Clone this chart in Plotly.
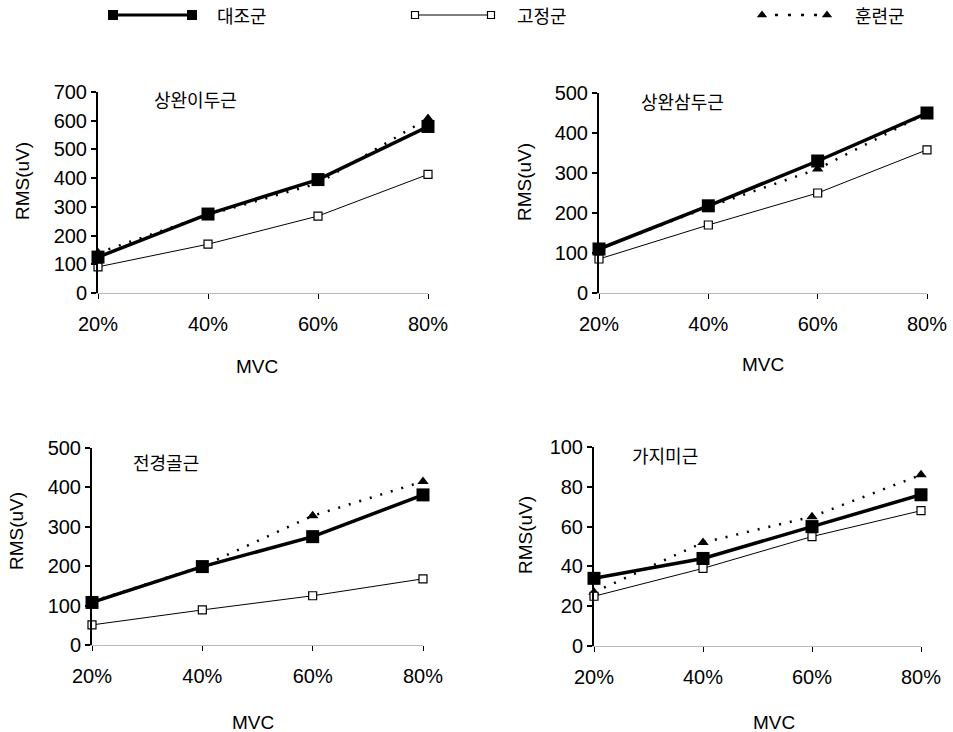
import plotly.graph_objects as go

mvc = [20, 40, 60, 80]
mvc_labels = [f"{v}%" for v in mvc]
groups = ["대조군", "고정군", "훈련군"]
muscles = ["상완이두근", "상완삼두근", "전경골근", "가지미근"]

# values per muscle: control (대조군), fixed (고정군), training (훈련군)
control = {
    "상완이두근": [125, 275, 395, 580],
    "상완삼두근": [110, 218, 330, 450],
    "전경골근": [108, 199, 275, 381],
    "가지미근": [34, 44, 60, 76],
}
fixed = {
    "상완이두근": [91, 170, 268, 413],
    "상완삼두근": [85, 170, 250, 358],
    "전경골근": [51, 89, 125, 168],
    "가지미근": [25, 39, 55, 68],
}
training = {
    "상완이두근": [140, 272, 382, 608],
    "상완삼두근": [110, 215, 310, 450],
    "전경골근": [110, 200, 328, 415],
    "가지미근": [27, 52, 65, 86],
}
y_max = {"상완이두근": 700, "상완삼두근": 500, "전경골근": 500, "가지미근": 100}
y_dtick = {"상완이두근": 100, "상완삼두근": 100, "전경골근": 100, "가지미근": 20}

W, H = 953, 732
# pixel boxes: (x_left, x_right, y_bottom, y_top)
boxes = [(98, 428, 293, 92), (599, 927, 293, 93), (92, 423, 645, 448), (594, 921, 646, 447)]
title_pos = [(195, 99), (682, 101), (166, 462), (665, 455)]
ylab_pos = [(22, 181), (525, 182), (16, 531), (525, 535)]
mvc_pos = [(257, 366), (763, 364), (253, 722), (774, 722)]

styles = {
    "대조군": dict(line=dict(color="black", width=3.5),
                 marker=dict(symbol="square", size=13, color="black")),
    "고정군": dict(line=dict(color="black", width=1),
                 marker=dict(symbol="square", size=8, color="white",
                             line=dict(color="black", width=1.2))),
    "훈련군": dict(line=dict(color="black", width=2.5, dash="2px,9px"),
                 marker=dict(symbol="triangle-up", size=10, color="black")),
}
legend_style = {
    "대조군": dict(line=dict(color="black", width=3),
                 marker=dict(symbol="square", size=10, color="black")),
    "고정군": dict(line=dict(color="black", width=1),
                 marker=dict(symbol="square", size=7, color="white",
                             line=dict(color="black", width=1.2))),
    "훈련군": dict(line=dict(color="black", width=2.5, dash="3px,10px"),
                 marker=dict(symbol="triangle-up", size=9, color="black")),
}
# legend layout in pixels: (symbol x0, symbol x1, text centre x), y
legend_pos = {"대조군": (113, 192, 242), "고정군": (415, 491, 542), "훈련군": (762, 827, 880)}
legend_y = 15

series = {"대조군": control, "고정군": fixed, "훈련군": training}
draw_order = ["훈련군", "고정군", "대조군"]

fig = go.Figure()
font_tick = dict(family="Liberation Sans, Arial", size=20, color="black")
kfont = "Noto Sans CJK KR"
ann_common = dict(xref="paper", yref="paper", showarrow=False,
                  xanchor="center", yanchor="middle")

for i, m in enumerate(muscles):
    sfx = "" if i == 0 else str(i + 1)
    xa, ya = "x" + sfx, "y" + sfx
    for g in draw_order:
        fig.add_trace(go.Scatter(
            x=mvc, y=series[g][m], mode="lines+markers", name=g,
            xaxis=xa, yaxis=ya, showlegend=False, cliponaxis=False, **styles[g]))

    xl, xr, yb, yt = boxes[i]
    fig.layout["xaxis" + sfx] = dict(
        domain=[xl / W, xr / W], anchor=ya, range=[20, 80], tickmode="array",
        tickvals=mvc, ticktext=mvc_labels, showgrid=False, zeroline=False, showline=True,
        linecolor="#bbbbbb", linewidth=1, ticks="outside", ticklen=5,
        tickcolor="black", tickfont=font_tick, ticklabelstandoff=8, automargin=False)
    fig.layout["yaxis" + sfx] = dict(
        domain=[1 - yb / H, 1 - yt / H], anchor=xa, range=[0, y_max[m]],
        dtick=y_dtick[m], showgrid=False, zeroline=False, showline=True,
        linecolor="black", linewidth=2, ticks="outside", ticklen=5, tickwidth=1.5,
        tickcolor="black", tickfont=font_tick, automargin=False)

    tx, ty = title_pos[i]
    fig.add_annotation(x=tx / W, y=1 - ty / H, text=m,
                       font=dict(family=kfont, size=18, color="black"), **ann_common)
    lx, ly = ylab_pos[i]
    fig.add_annotation(x=lx / W, y=1 - ly / H, text="RMS(uV)", textangle=-90,
                       font=dict(family="Liberation Sans, Arial", size=19, color="black"),
                       **ann_common)
    mx, my = mvc_pos[i]
    fig.add_annotation(x=mx / W, y=1 - my / H, text="MVC",
                       font=dict(family="Liberation Sans, Arial", size=19, color="black"),
                       **ann_common)

# custom legend drawn on a hidden pixel-scaled axis
for g in groups:
    x0, x1, tx = legend_pos[g]
    fig.add_trace(go.Scatter(x=[x0, x1], y=[legend_y, legend_y], mode="lines+markers",
                             xaxis="x5", yaxis="y5", showlegend=False, hoverinfo="skip",
                             cliponaxis=False, **legend_style[g]))
    fig.add_annotation(x=tx, y=legend_y, xref="x5", yref="y5", text=g, showarrow=False,
                       xanchor="center", yanchor="middle",
                       font=dict(family=kfont, size=18, color="black"))

fig.update_layout(
    xaxis5=dict(domain=[0, 1], range=[0, W], visible=False, anchor="y5", fixedrange=True),
    yaxis5=dict(domain=[1 - 30 / H, 1], range=[30, 0], visible=False, anchor="x5",
                fixedrange=True),
    width=W, height=H, margin=dict(l=0, r=0, t=0, b=0),
    paper_bgcolor="white", plot_bgcolor="rgba(0,0,0,0)", showlegend=False,
)

fig.write_html("out.html")
